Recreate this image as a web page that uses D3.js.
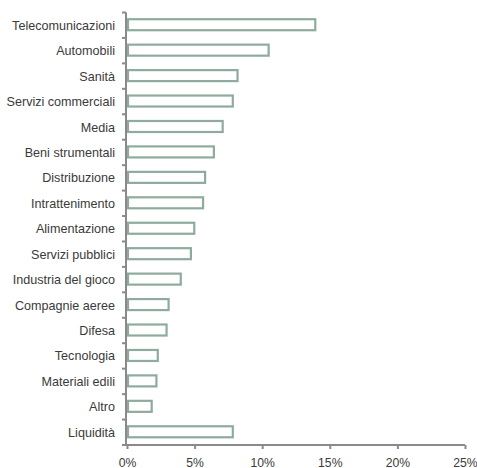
<!DOCTYPE html>
<html><head><meta charset="utf-8">
<script src="https://cdn.jsdelivr.net/npm/d3@7/dist/d3.min.js"></script>
<style>body{margin:0;background:#fff}svg{display:block}text{font-family:"Liberation Sans",Arial,sans-serif}</style>
</head><body><svg id="c" width="477" height="468"></svg>
<script>
const categories = ["Telecomunicazioni","Automobili","Sanità","Servizi commerciali","Media","Beni strumentali","Distribuzione","Intrattenimento","Alimentazione","Servizi pubblici","Industria del gioco","Compagnie aeree","Difesa","Tecnologia","Materiali edili","Altro","Liquidità"];
const values = [14.0,10.55,8.25,7.9,7.15,6.5,5.85,5.7,5.05,4.8,4.05,3.15,3.0,2.35,2.25,1.9,7.9];
const xTicks = [0,5,10,15,20,25];

const svg = d3.select("#c");
const x = d3.scaleLinear().domain([0,25]).range([127,465]);
const y = d3.scaleBand().domain(categories).range([12.5,445]).padding(0);
const axisColor = "#8a8a8a", textColor = "#3a3a3a", barColor = "#8fab9d";

// bars
svg.append("g").selectAll("rect").data(categories).join("rect")
  .attr("x", x(0)+1)
  .attr("y", d => y(d)+y.bandwidth()/2-6)
  .attr("width", (d,i) => x(values[i])-x(0)-2)
  .attr("height", 11)
  .attr("fill","#fff").attr("stroke",barColor).attr("stroke-width",2.2);

// y axis: line + boundary ticks
const boundaries = categories.map(c => y(c)).concat([y.range()[1]]);
const gy = svg.append("g");
gy.append("line").attr("x1",x(0)-1).attr("x2",x(0)-1).attr("y1",boundaries[0]).attr("y2",445)
  .attr("stroke",axisColor).attr("stroke-width",2);
gy.selectAll("line.t").data(boundaries).join("line").attr("class","t")
  .attr("x1",x(0)-5).attr("x2",x(0)-1).attr("y1",d=>d).attr("y2",d=>d)
  .attr("stroke",axisColor).attr("stroke-width",2);
gy.selectAll("text").data(categories).join("text")
  .attr("x",115).attr("y",d=>y(d)+y.bandwidth()/2)
  .attr("dy","0.36em").attr("text-anchor","end")
  .attr("font-size",12.6).attr("fill",textColor).text(d=>d);

// x axis
const gx = svg.append("g").attr("transform","translate(0,445)")
  .call(d3.axisBottom(x).tickValues(xTicks).tickSize(4).tickSizeOuter(0).tickFormat(d=>d+"%"));
gx.select(".domain").attr("stroke",axisColor).attr("stroke-width",2).attr("d",`M${x(0)-2},0H${x(25)}`);
gx.selectAll(".tick line").attr("stroke",axisColor).attr("stroke-width",2);
gx.selectAll(".tick text").attr("font-size",12.2).attr("fill",textColor).attr("font-family","Liberation Sans, Arial, sans-serif").attr("dy","0").attr("y",21.5);
</script></body></html>
